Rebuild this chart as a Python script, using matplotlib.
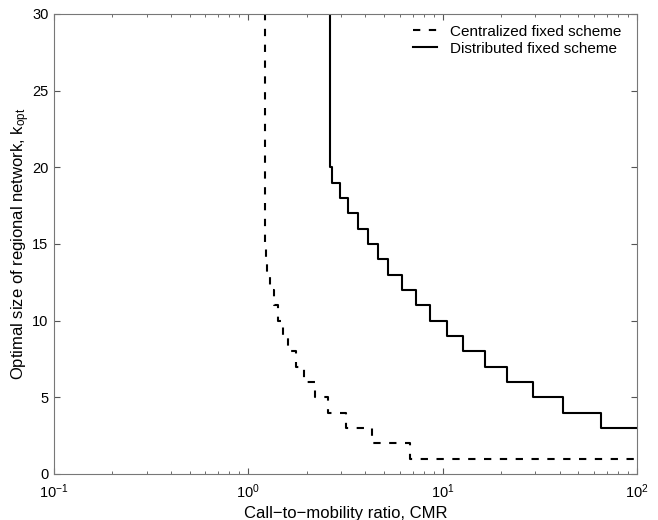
import matplotlib
matplotlib.use("Agg")
import matplotlib.pyplot as plt

plt.rcParams['font.family'] = ['Liberation Sans', 'DejaVu Sans']
plt.rcParams['mathtext.default'] = 'regular'

# CMR at which each k_opt value starts (step curves, k holds until next CMR)
cmr_central = [1.205, 1.212, 1.218, 1.228, 1.243, 1.292, 1.356, 1.428, 1.514,
               1.606, 1.759, 1.941, 2.203, 2.579, 3.182, 4.314, 6.79, 100]
k_central = [30, 16, 15, 14, 13, 12, 11, 10, 9, 8, 7, 6, 5, 4, 3, 2, 1, 1]

cmr_distrib = [2.633, 2.645, 2.685, 2.963, 3.27, 3.68, 4.14, 4.66, 5.25, 6.15,
               7.27, 8.61, 10.49, 12.77, 16.52, 21.5, 29.3, 41.8, 65.0, 100]
k_distrib = [30, 20, 19, 18, 17, 16, 15, 14, 13, 12, 11, 10, 9, 8, 7, 6, 5,
             4, 3, 3]

fig = plt.figure(figsize=(6.58, 5.20), dpi=100)
ax = fig.add_axes([0.082, 0.0885, 0.886, 0.8846])

ax.step(cmr_central, k_central, where='post', color='black', lw=1.5,
        dashes=(3.5, 4.1), label='Centralized fixed scheme')
ax.step(cmr_distrib, k_distrib, where='post', color='black', lw=1.5,
        label='Distributed fixed scheme')

ax.set_xscale('log')
ax.set_xlim(0.1, 100)
ax.set_ylim(0, 30)
ax.set_yticks([0, 5, 10, 15, 20, 25, 30])

ax.tick_params(which='both', direction='in', top=True, right=True,
               color='#555555', labelsize=10.5, pad=4)
ax.tick_params(axis='x', which='both', pad=6)
ax.tick_params(which='major', length=4)
ax.tick_params(which='minor', length=2.5)
for sp in ax.spines.values():
    sp.set_color('#777777')
    sp.set_linewidth(0.8)

ax.set_xlabel('Call\u2212to\u2212mobility ratio, CMR', fontsize=12, labelpad=3.5)
ax.set_ylabel('Optimal size of regional network, k$_{opt}$', fontsize=12,
              labelpad=0)

ax.legend(loc='upper right', bbox_to_anchor=(0.983, 0.99), frameon=False,
          fontsize=11, handlelength=1.6, borderaxespad=0, labelspacing=0.2,
          handletextpad=0.8)

fig.savefig('out.png', dpi=100)
